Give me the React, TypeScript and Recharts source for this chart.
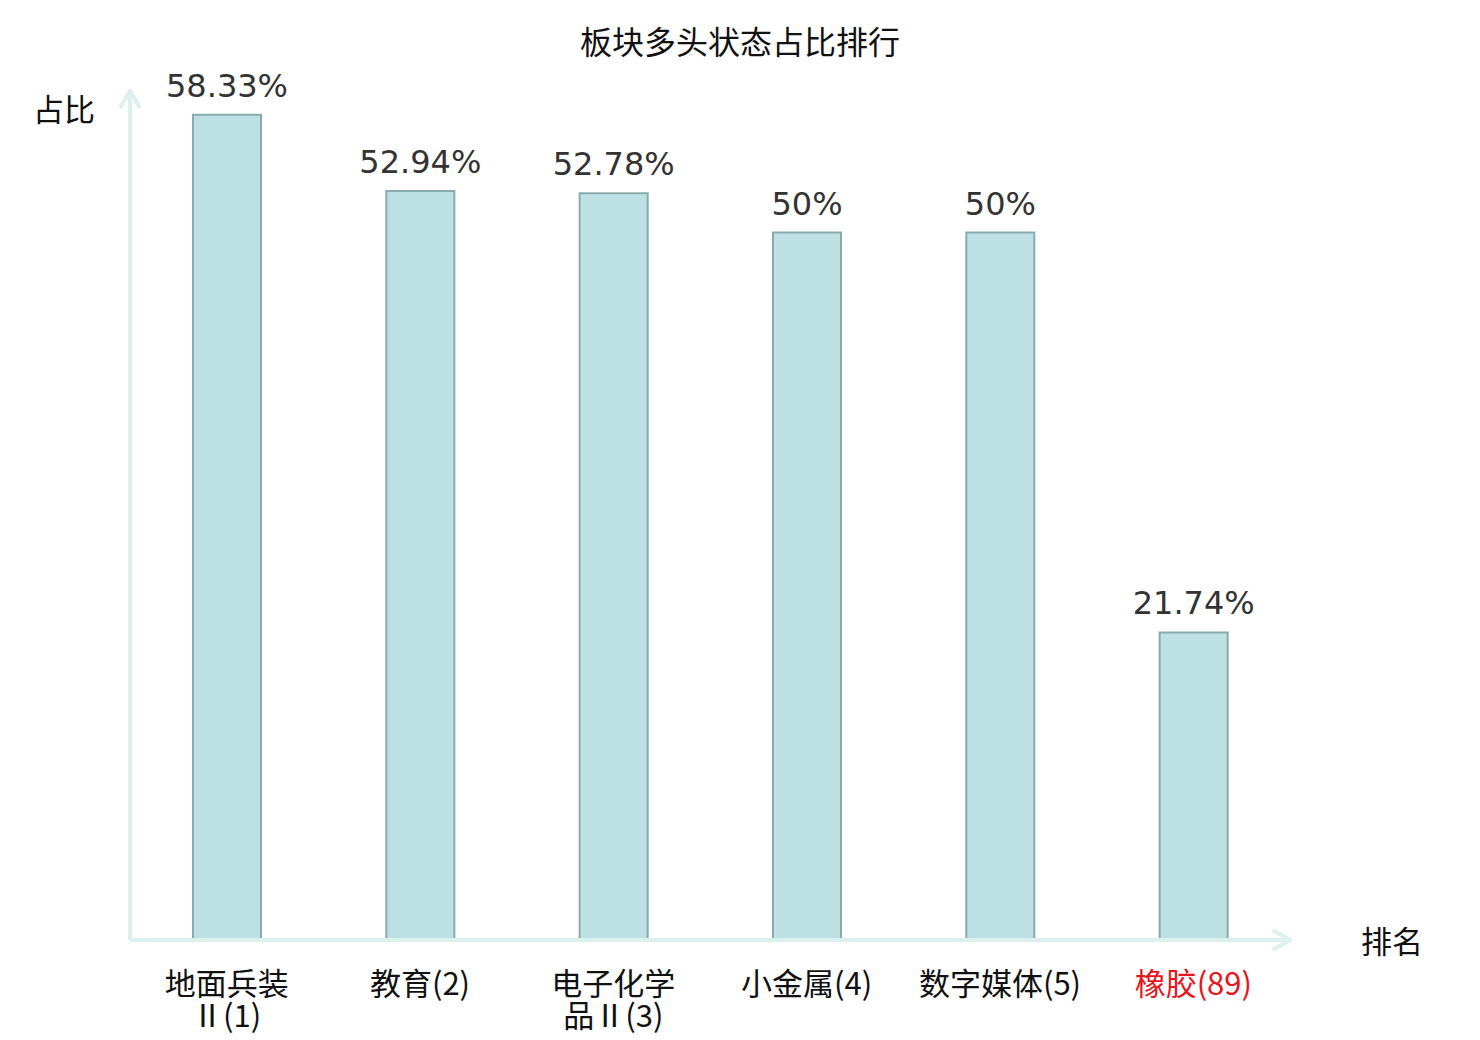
import React from "react";
import { Bar, BarChart, LabelList, XAxis, YAxis } from "recharts";

const sectors = ["地面兵装Ⅱ", "教育", "电子化学品Ⅱ", "小金属", "数字媒体", "橡胶"];
const ranks = [1, 2, 3, 4, 5, 89];
const ratios = [58.33, 52.94, 52.78, 50, 50, 21.74];

// the last one is the highlighted sector
const highlight = "橡胶";

const data = sectors.map((name, i) => ({
  name,
  rank: ranks[i],
  ratio: ratios[i],
}));

const CJK = '"Noto Sans CJK SC", "Noto Sans", sans-serif';
const axisColor = "#dcf1ee";

// long names wrap after four characters, like the original
function SectorTick(props: any) {
  const { x, y, payload, index } = props;
  const name: string = payload.value;
  const full = `${name}(${ranks[index]})`;
  const lines = name.length > 4 ? [name.slice(0, 4), full.slice(4)] : [full];
  const color = name === highlight ? "#e8141c" : "#111";
  return (
    <text
      x={x}
      y={y}
      textAnchor="middle"
      fill={color}
      fontSize={31}
      fontFamily={CJK}
    >
      {lines.map((line, i) => (
        <tspan key={i} x={x} dy={i === 0 ? 39 : 32}>
          {line}
        </tspan>
      ))}
    </text>
  );
}

export default function App() {
  return (
    <div
      style={{
        position: "absolute",
        left: 0,
        top: 0,
        width: 1480,
        height: 1040,
        background: "#fff",
        fontFamily: CJK,
      }}
    >
      <svg width={0} height={0} style={{ position: "absolute" }}>
        <defs>
          <marker
            id="axisArrow"
            viewBox="0 0 20 22"
            refX={18}
            refY={11}
            markerWidth={20}
            markerHeight={22}
            markerUnits="userSpaceOnUse"
            orient="auto-start-reverse"
          >
            <path d="M1,1 L18,11 L1,21" fill="none" stroke={axisColor} strokeWidth={4} />
          </marker>
        </defs>
      </svg>
      <div
        style={{
          position: "absolute",
          left: 0,
          width: 1480,
          top: 17,
          textAlign: "center",
          fontSize: 32,
          color: "#111",
        }}
      >
        板块多头状态占比排行
      </div>
      <div style={{ position: "absolute", left: 33, top: 85, fontSize: 31, color: "#111" }}>
        占比
      </div>
      <div style={{ position: "absolute", left: 1361, top: 917, fontSize: 31, color: "#111" }}>
        排名
      </div>
      <BarChart
        width={1480}
        height={1040}
        data={data}
        margin={{ top: 91, right: 190, left: 120, bottom: 40 }}
      >
        <XAxis
          dataKey="name"
          height={60}
          interval={0}
          tickLine={false}
          tickMargin={10}
          axisLine={{ stroke: axisColor, strokeWidth: 4, markerEnd: "url(#axisArrow)" }}
          tick={<SectorTick />}
        />
        <YAxis
          width={10}
          domain={[0, 60]}
          tick={false}
          tickLine={false}
          axisLine={{ stroke: axisColor, strokeWidth: 4, markerStart: "url(#axisArrow)" }}
        />
        <Bar
          dataKey="ratio"
          fill="#bce0e3"
          stroke="#8aabab"
          strokeWidth={2}
          barSize={68}
          isAnimationActive={false}
        >
          <LabelList
            dataKey="ratio"
            position="top"
            offset={18}
            formatter={(v: any) => `${v}%`}
            fill="#333"
            fontSize={32}
            fontFamily='"DejaVu Sans", sans-serif'
          />
        </Bar>
      </BarChart>
    </div>
  );
}
